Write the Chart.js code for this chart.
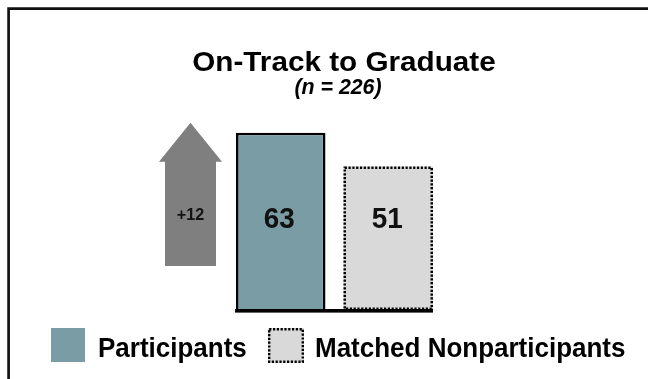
<!DOCTYPE html>
<html>
<head>
<meta charset="utf-8">
<script src="https://cdn.jsdelivr.net/npm/chart.js@4/dist/chart.umd.min.js"></script>
<style>
  html, body { margin: 0; padding: 0; background: #ffffff; }
  canvas { display: block; }
</style>
</head>
<body>
<canvas id="c" width="648" height="379"></canvas>
<script>
// ---- data ----
const categories = ['On-Track to Graduate'];
const seriesNames = ['Participants', 'Matched Nonparticipants'];
const participants = [63];
const nonparticipants = [51];
const difference = ['+12'];
const titleText = 'On-Track to Graduate';
const subtitleText = '(n = 226)';

const TEAL = '#7A9CA5';
const LIGHT = '#D9D9D9';
const ARROW = '#7F7F7F';
const FONT = '"Liberation Sans", Arial, sans-serif';

function dottedRect(ctx, x, y, w, h, lw) {
  ctx.save();
  ctx.strokeStyle = '#000';
  ctx.lineWidth = lw;
  ctx.setLineDash([2.2, 1.6]);
  ctx.strokeRect(x + lw / 2, y + lw / 2, w - lw, h - lw);
  ctx.restore();
}

// text drawn with slight horizontal scaling
function text(ctx, str, x, y, font, sx, align) {
  ctx.save();
  ctx.font = font;
  ctx.textAlign = align || 'left';
  ctx.textBaseline = 'alphabetic';
  ctx.translate(x, y);
  ctx.scale(sx, 1);
  ctx.fillText(str, 0, 0);
  ctx.restore();
}

const decor = {
  id: 'decor',
  beforeDraw(chart) {
    const ctx = chart.ctx;
    ctx.save();
    ctx.fillStyle = '#fff';
    ctx.fillRect(0, 0, chart.width, chart.height);
    // frame (top + left)
    ctx.strokeStyle = '#111';
    ctx.lineWidth = 2.7;
    ctx.beginPath();
    ctx.moveTo(8.6, chart.height + 2);
    ctx.lineTo(8.6, 8.6);
    ctx.lineTo(chart.width + 2, 8.6);
    ctx.stroke();
    ctx.restore();
  },
  afterDatasetsDraw(chart) {
    const ctx = chart.ctx;
    const y = chart.scales.y;
    const b1 = chart.getDatasetMeta(0).data[0];
    const b2 = chart.getDatasetMeta(1).data[0];
    const w1 = b1.width, w2 = b2.width;
    const l1 = b1.x - w1 / 2, r2 = b2.x + w2 / 2;
    const base = y.getPixelForValue(0);

    // dotted border for nonparticipants bar
    dottedRect(ctx, b2.x - w2 / 2, b2.y, w2, base - b2.y, 2.5);

    // baseline
    ctx.save();
    ctx.fillStyle = '#000';
    ctx.fillRect(l1 - 1, base - 1, r2 - l1 + 1, 3.6);
    ctx.restore();

    // value labels
    ctx.fillStyle = '#111';
    const labY = base - 82;
    text(ctx, String(participants[0]), b1.x - 1.5, labY, 'bold 29px ' + FONT, 0.96, 'center');
    text(ctx, String(nonparticipants[0]), b2.x - 1, labY, 'bold 29px ' + FONT, 0.96, 'center');

    // difference arrow
    const cx = l1 - 45.5;
    const tip = y.getPixelForValue(participants[0]) - 10;
    const headBase = tip + 39;
    const bottom = base - 44;
    ctx.save();
    ctx.fillStyle = ARROW;
    ctx.beginPath();
    ctx.moveTo(cx, tip);
    ctx.lineTo(cx + 31.5, headBase);
    ctx.lineTo(cx + 25.5, headBase);
    ctx.lineTo(cx + 25.5, bottom);
    ctx.lineTo(cx - 25.5, bottom);
    ctx.lineTo(cx - 25.5, headBase);
    ctx.lineTo(cx - 31.5, headBase);
    ctx.closePath();
    ctx.fill();
    ctx.restore();
    ctx.fillStyle = '#111';
    text(ctx, difference[0], cx, 220, 'bold 17px ' + FONT, 0.95, 'center');

    // title + subtitle
    ctx.fillStyle = '#000';
    text(ctx, titleText, 344, 71, 'bold 28px ' + FONT, 1.06, 'center');
    text(ctx, subtitleText, 338, 94, 'italic bold 22px ' + FONT, 0.97, 'center');

    // legend
    ctx.save();
    ctx.fillStyle = TEAL;
    ctx.fillRect(51, 328, 34, 34);
    ctx.fillStyle = LIGHT;
    ctx.fillRect(268, 328, 36, 35);
    dottedRect(ctx, 268, 328, 36, 35, 2.4);
    ctx.restore();
    ctx.fillStyle = '#000';
    text(ctx, seriesNames[0], 98, 356.5, 'bold 27.5px ' + FONT, 0.945);
    text(ctx, seriesNames[1], 315, 356.5, 'bold 27.5px ' + FONT, 0.945);
  }
};

new Chart(document.getElementById('c'), {
  type: 'bar',
  data: {
    labels: categories,
    datasets: [
      {
        label: seriesNames[0],
        data: participants,
        backgroundColor: TEAL,
        borderColor: '#000',
        borderWidth: 2.6,
        borderSkipped: 'bottom'
      },
      {
        label: seriesNames[1],
        data: nonparticipants,
        backgroundColor: LIGHT,
        borderWidth: 0
      }
    ]
  },
  options: {
    responsive: false,
    animation: false,
    layout: { padding: { left: 227, right: 206, top: 113, bottom: 69 } },
    categoryPercentage: 1.0,
    barPercentage: 0.8326,
    scales: {
      x: { display: false },
      y: { display: false, min: 0, max: 70 }
    },
    plugins: {
      legend: { display: false },
      title: { display: false },
      tooltip: { enabled: false }
    }
  },
  plugins: [decor]
});
</script>
</body>
</html>
